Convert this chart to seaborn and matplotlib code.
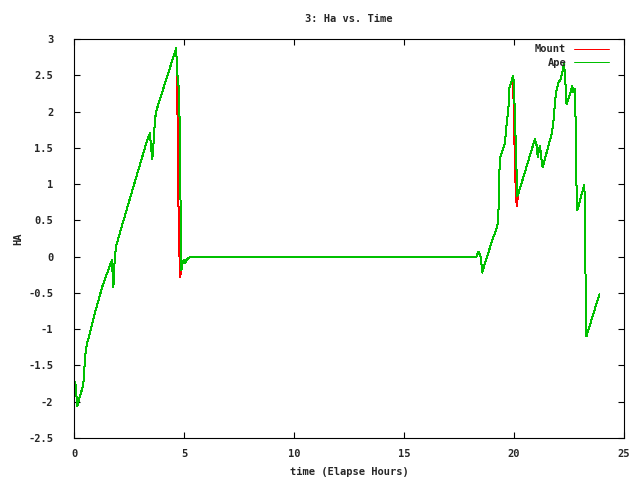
import pandas as pd
import seaborn as sns
import matplotlib.pyplot as plt

# tempo em horas (compartilhado pelas duas séries)
horas = [0.0, 0.06, 0.15, 0.2, 0.42, 0.51, 0.58, 0.7, 1.0, 1.3, 1.67, 1.72, 1.79, 1.85, 1.91, 2.01,
         2.6, 3.33, 3.45, 3.52, 3.56, 3.6, 3.65, 3.7, 3.75, 4.2, 4.64, 4.67, 4.71, 4.76, 4.82, 4.85,
         4.88, 4.93, 5.0, 5.06, 5.12, 5.3, 10.0, 15.0, 18.3, 18.38, 18.45, 18.5, 18.53, 18.56, 18.62,
         19.06, 19.18, 19.26, 19.3, 19.33, 19.36, 19.47, 19.59, 19.67, 19.74, 19.79, 19.9, 19.95,
         19.99, 20.05, 20.12, 20.15, 20.2, 20.95, 21.03, 21.08, 21.15, 21.18, 21.23, 21.3, 21.71,
         21.79, 21.86, 21.91, 22.02, 22.12, 22.24, 22.27, 22.32, 22.36, 22.39, 22.55, 22.64, 22.7,
         22.76, 22.8, 22.83, 22.88, 23.12, 23.2, 23.23, 23.26, 23.29, 23.88]

ape = [-1.79, -1.73, -2.06, -2.0, -1.77, -1.37, -1.21, -1.08, -0.72, -0.4, -0.09, -0.05, -0.42, -0.03, 0.14, 0.25,
       0.86, 1.61, 1.70, 1.45, 1.35, 1.49, 1.74, 1.93, 2.02, 2.45, 2.87, 2.69, 2.46, 2.34, 1.65, 0.41,
       -0.19, -0.1, -0.04, -0.09, -0.04, 0.0, 0.0, 0.0, 0.0, 0.07, 0.04, -0.04, -0.13, -0.22, -0.15,
       0.27, 0.36, 0.45, 0.68, 1.12, 1.35, 1.46, 1.57, 1.85, 2.01, 2.33, 2.42, 2.49,
       2.42, 1.85, 1.14, 0.84, 0.87, 1.62, 1.53, 1.37, 1.5, 1.53, 1.39, 1.23, 1.69,
       1.85, 2.12, 2.26, 2.40, 2.44, 2.60, 2.65, 2.52, 2.24, 2.10, 2.24, 2.35, 2.27,
       2.31, 1.89, 1.07, 0.64, 0.91, 0.99, 0.45, -0.58, -1.10, -0.52]

mount = [-1.79, -1.73, -2.06, -2.0, -1.77, -1.37, -1.21, -1.08, -0.72, -0.4, -0.09, -0.05, -0.42, -0.03, 0.14, 0.25,
         0.86, 1.61, 1.70, 1.45, 1.35, 1.49, 1.74, 1.93, 2.02, 2.45, 2.87, 2.69, 1.84, 0.41, -0.28, -0.24,
         -0.19, -0.1, -0.04, -0.09, -0.04, 0.0, 0.0, 0.0, 0.0, 0.07, 0.04, -0.04, -0.13, -0.22, -0.15,
         0.27, 0.36, 0.45, 0.68, 1.12, 1.35, 1.46, 1.57, 1.85, 2.01, 2.33, 2.42, 2.49,
         2.03, 1.14, 0.70, 0.77, 0.87, 1.62, 1.53, 1.37, 1.5, 1.53, 1.39, 1.23, 1.69,
         1.85, 2.12, 2.26, 2.40, 2.44, 2.60, 2.65, 2.52, 2.24, 2.10, 2.24, 2.35, 2.27,
         2.31, 1.89, 1.07, 0.64, 0.91, 0.99, 0.45, -0.58, -1.10, -0.52]

df = pd.DataFrame({"time": horas, "Mount": mount, "Ape": ape})

sns.set_style("ticks")
plt.rcParams["font.family"] = ["DejaVu Sans Mono"]
plt.rcParams["font.weight"] = "bold"
plt.rcParams["font.size"] = 7.5

fig = plt.figure(figsize=(6.4, 4.8), dpi=100)
ax = fig.add_axes([74 / 640, 42 / 480, 550 / 640, 399 / 480])

sns.lineplot(data=df, x="time", y="Mount", color="#ff0000", lw=0.72, estimator=None, sort=False,
             label="Mount", antialiased=False, ax=ax)
sns.lineplot(data=df, x="time", y="Ape", color="#00c000", lw=0.72, estimator=None, sort=False,
             label="Ape", antialiased=False, ax=ax)

ax.set_xlim(0, 25)
ax.set_ylim(-2.5, 3)
ax.set_xticks([0, 5, 10, 15, 20, 25])
ax.set_yticks([-2.5, -2, -1.5, -1, -0.5, 0, 0.5, 1, 1.5, 2, 2.5, 3])
ax.set_yticklabels(["-2.5", "-2", "-1.5", "-1", "-0.5", "0", "0.5", "1", "1.5", "2", "2.5", "3"])
ax.tick_params(direction="in", length=4, width=0.8, top=True, right=True, color="black")
ax.tick_params(axis="y", pad=15)
ax.tick_params(axis="x", pad=8)
for s in ax.spines.values():
    s.set_linewidth(0.8)
    s.set_color("black")

ax.set_title("3: Ha vs. Time", pad=12, fontweight="bold", fontsize=7.5)
ax.set_xlabel("time (Elapse Hours)", labelpad=6, fontweight="bold")
ax.set_ylabel("HA", fontweight="bold")
ax.yaxis.set_label_coords(-0.093, 0.5)

ax.legend(loc="upper right", bbox_to_anchor=(0.98, 0.9975), frameon=False, markerfirst=False,
          handlelength=3.3, borderaxespad=0, labelspacing=0.35, handletextpad=0.8)

fig.savefig("out.png", dpi=100)
